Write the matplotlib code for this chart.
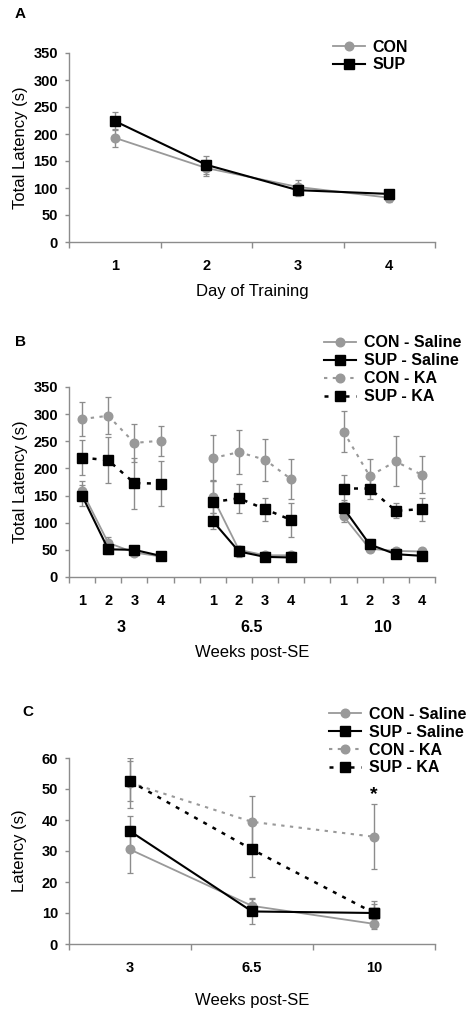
import numpy as np
import matplotlib
matplotlib.use("Agg")
import matplotlib.pyplot as plt
from matplotlib.ticker import FixedLocator

plt.rcParams['font.family'] = ['Liberation Sans', 'DejaVu Sans']

# ---- panel A data ----
days = ['1', '2', '3', '4']
a_con = [193, 137, 102, 82]
a_con_err = [17, 15, 12, 8]
a_sup = [224, 143, 96, 89]
a_sup_err = [17, 17, 10, 6]

# ---- panel B data (4 days x 3 time points) ----
b_groups = ['3', '6.5', '10']
b_con_sal = [[158, 63, 45, 38], [147, 50, 40, 40], [112, 52, 48, 47]]
b_con_sal_err = [[18, 10, 6, 4], [30, 8, 5, 4], [10, 6, 5, 4]]
b_sup_sal = [[150, 51, 50, 39], [103, 47, 37, 36], [127, 60, 42, 39]]
b_sup_sal_err = [[20, 8, 6, 4], [15, 10, 5, 4], [15, 10, 6, 4]]
b_con_ka = [[291, 297, 247, 251], [219, 230, 216, 180], [268, 186, 213, 188]]
b_con_ka_err = [[31, 34, 35, 28], [43, 40, 39, 37], [37, 31, 46, 34]]
b_sup_ka = [[220, 215, 173, 172], [138, 145, 125, 105], [163, 163, 122, 125]]
b_sup_ka_err = [[33, 42, 47, 41], [40, 27, 21, 31], [25, 20, 14, 21]]

# ---- panel C data ----
weeks = ['3', '6.5', '10']
c_con_sal = [30.5, 12.3, 6.5]
c_con_sal_err = [7.5, 2.7, 1.5]
c_sup_sal = [36.4, 10.5, 10.0]
c_sup_sal_err = [5.0, 4.0, 4.0]
c_con_ka = [52.0, 39.4, 34.6]
c_con_ka_err = [8.0, 8.5, 10.5]
c_sup_ka = [52.5, 30.5, 10.0]
c_sup_ka_err = [6.5, 9.0, 3.0]

GRAY = '#999999'
ECOL = '#8c8c8c'
SPINE = '#8c8c8c'
TICKFS = 10.5
LABFS = 12
LEGFS = 11.5

styles = {
    'con_sal': dict(color=GRAY, marker='o', ms=6.2, lw=1.3, ls='-', mfc=GRAY, mec=GRAY),
    'sup_sal': dict(color='black', marker='s', ms=6.5, lw=1.5, ls='-', mfc='black', mec='black'),
    'con_ka': dict(color=GRAY, marker='o', ms=6.2, lw=1.5, ls=(0, (1.6, 2.6)), mfc=GRAY, mec=GRAY),
    'sup_ka': dict(color='black', marker='s', ms=6.5, lw=1.8, ls=(0, (1.6, 2.6)), mfc='black', mec='black'),
}
LEG = dict(loc='upper left', frameon=False, prop={'weight': 'bold', 'size': LEGFS},
           handlelength=2.0, handletextpad=0.5, labelspacing=0.18, borderpad=0.2)


def series(ax, x, y, err, st, label=None):
    ax.errorbar(x, y, yerr=err, fmt='none', ecolor=ECOL, elinewidth=1.0,
                capsize=2, capthick=0.9, zorder=2)
    ax.plot(x, y, label=label, zorder=3, **st)


def style_axes(ax):
    for s in ['top', 'right']:
        ax.spines[s].set_visible(False)
    for s in ['left', 'bottom']:
        ax.spines[s].set_color(SPINE)
        ax.spines[s].set_linewidth(1.0)
    ax.tick_params(axis='y', which='both', direction='out', length=3, width=1,
                   color=SPINE, labelsize=TICKFS, pad=5)
    for t in ax.get_yticklabels():
        t.set_fontweight('bold')


fig = plt.figure(figsize=(4.74, 10.10), dpi=100)
W = 366 / 474
L = 69 / 474

# ---------------- A ----------------
axA = fig.add_axes([L, 1 - 242 / 1010, W, 189 / 1010])
xa = np.arange(1, 5)
series(axA, xa, a_con, a_con_err, styles['con_sal'], 'CON')
series(axA, xa, a_sup, a_sup_err, styles['sup_sal'], 'SUP')
axA.set_xlim(0.5, 4.5)
axA.set_ylim(0, 350)
axA.set_yticks(np.arange(0, 351, 50))
axA.xaxis.set_major_locator(FixedLocator(xa))
axA.set_xticklabels(days, fontsize=TICKFS, fontweight='bold')
axA.xaxis.set_minor_locator(FixedLocator(np.arange(0.5, 4.6, 1)))
axA.tick_params(axis='x', which='major', length=0, pad=12)
axA.tick_params(axis='x', which='minor', length=4, width=1, color=SPINE, direction='out')
style_axes(axA)
axA.set_ylabel('Total Latency (s)', fontsize=LABFS, labelpad=4)
axA.set_xlabel('Day of Training', fontsize=LABFS, labelpad=8)
axA.legend(bbox_to_anchor=(0.69, 1.13), **LEG)
fig.text(15 / 474, 1 - 14 / 1010, 'A', fontsize=11, fontweight='bold', va='center')

# ---------------- B ----------------
axB = fig.add_axes([L, 1 - 577 / 1010, W, 190 / 1010])
names = ['con_sal', 'sup_sal', 'con_ka', 'sup_ka']
labels = ['CON - Saline', 'SUP - Saline', 'CON - KA', 'SUP - KA']
vals = [b_con_sal, b_sup_sal, b_con_ka, b_sup_ka]
errs = [b_con_sal_err, b_sup_sal_err, b_con_ka_err, b_sup_ka_err]
order = [0, 1, 2, 3]
for k in order:
    for g in range(3):
        xb = np.arange(4) + 5 * g
        series(axB, xb, vals[k][g], errs[k][g], styles[names[k]],
               labels[k] if g == 0 else None)
axB.set_xlim(-0.5, 13.5)
axB.set_ylim(0, 350)
axB.set_yticks(np.arange(0, 351, 50))
pos = np.concatenate([np.arange(4) + 5 * g for g in range(3)])
axB.xaxis.set_major_locator(FixedLocator(pos))
axB.set_xticklabels(days * 3, fontsize=TICKFS, fontweight='bold')
axB.xaxis.set_minor_locator(FixedLocator(np.arange(-0.5, 13.6, 1)))
axB.tick_params(axis='x', which='major', length=0, pad=12)
axB.tick_params(axis='x', which='minor', length=4, width=1, color=SPINE, direction='out')
style_axes(axB)
for g, gl in enumerate(b_groups):
    axB.text(1.5 + 5 * g, -0.265, gl, transform=axB.get_xaxis_transform(),
             ha='center', va='center', fontsize=TICKFS + 1, fontweight='bold')
axB.set_ylabel('Total Latency (s)', fontsize=LABFS, labelpad=4)
axB.set_xlabel('Weeks post-SE', fontsize=LABFS, labelpad=27)
axB.legend(bbox_to_anchor=(0.665, 1.33), **LEG)
fig.text(15 / 474, 1 - 342 / 1010, 'B', fontsize=11, fontweight='bold', va='center')

# ---------------- C ----------------
axC = fig.add_axes([L, 1 - 944 / 1010, W, 186 / 1010])
xc = np.arange(3)
cvals = [c_con_sal, c_sup_sal, c_con_ka, c_sup_ka]
cerrs = [c_con_sal_err, c_sup_sal_err, c_con_ka_err, c_sup_ka_err]
for k in order:
    series(axC, xc, cvals[k], cerrs[k], styles[names[k]], labels[k])
axC.set_xlim(-0.5, 2.5)
axC.set_ylim(0, 60)
axC.set_yticks(np.arange(0, 61, 10))
axC.xaxis.set_major_locator(FixedLocator(xc))
axC.set_xticklabels(weeks, fontsize=TICKFS, fontweight='bold')
axC.xaxis.set_minor_locator(FixedLocator(np.arange(-0.5, 2.6, 1)))
axC.tick_params(axis='x', which='major', length=0, pad=12)
axC.tick_params(axis='x', which='minor', length=4, width=1, color=SPINE, direction='out')
style_axes(axC)
axC.text(2, c_con_ka[2] + c_con_ka_err[2] + 0.2, '*', ha='center', va='bottom',
         fontsize=14, fontweight='bold')
axC.set_ylabel('Latency (s)', fontsize=LABFS, labelpad=10)
axC.set_xlabel('Weeks post-SE', fontsize=LABFS, labelpad=13)
axC.legend(bbox_to_anchor=(0.68, 1.335), **LEG)
fig.text(22 / 474, 1 - 712 / 1010, 'C', fontsize=11, fontweight='bold', va='center')

fig.savefig('out.png', dpi=100)
